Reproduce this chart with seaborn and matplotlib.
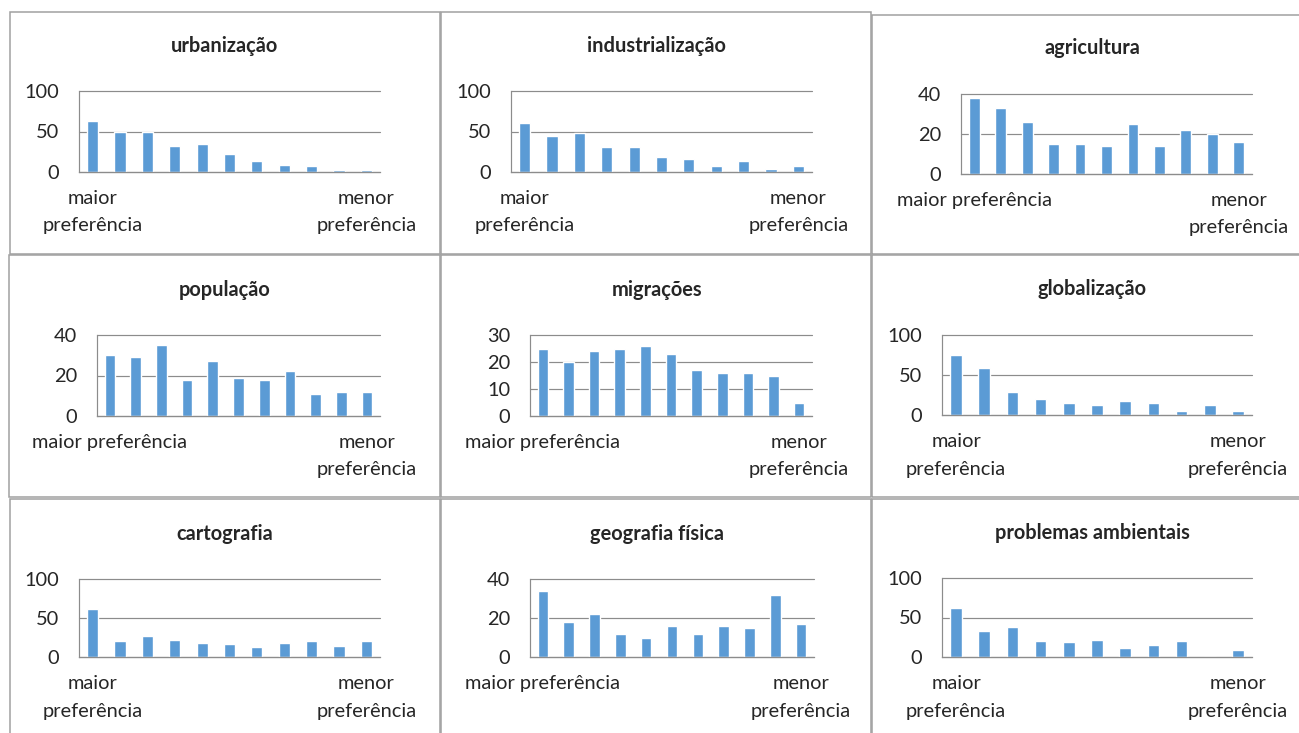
import numpy as np
import matplotlib
matplotlib.use("Agg")
import matplotlib.pyplot as plt
import seaborn as sns
from matplotlib.patches import Rectangle

# Pixel canvas
W, H = 1299, 733
DPI = 100

# Ranking positions (1 = maior preferência ... 11 = menor preferência)
ranks = [str(i) for i in range(1, 12)]

# Number of answers at each ranking position, per theme
urbanizacao = [63, 50, 49, 32, 34, 22, 14, 9, 7, 2, 2]
industrializacao = [60, 44, 48, 31, 31, 19, 16, 8, 14, 4, 7]
agricultura = [38, 33, 26, 15, 15, 14, 25, 14, 22, 20, 16]
populacao = [30, 29, 35, 18, 27, 19, 18, 22, 11, 12, 12]
migracoes = [25, 20, 24, 25, 26, 23, 17, 16, 16, 15, 5]
globalizacao = [75, 59, 29, 20, 15, 13, 17, 15, 5, 12, 5]
cartografia = [61, 21, 27, 22, 18, 17, 13, 18, 21, 14, 20]
geografia_fisica = [34, 18, 22, 12, 10, 16, 12, 16, 15, 32, 17]
problemas_ambientais = [62, 33, 38, 20, 19, 22, 12, 15, 20, 0, 9]

titles = ["urbanização", "industrialização", "agricultura",
          "população", "migrações", "globalização",
          "cartografia", "geografia física", "problemas ambientais"]
series = [urbanizacao, industrializacao, agricultura,
          populacao, migracoes, globalizacao,
          cartografia, geografia_fisica, problemas_ambientais]
yticks = [[0, 50, 100], [0, 50, 100], [0, 20, 40],
          [0, 20, 40], [0, 10, 20, 30], [0, 50, 100],
          [0, 50, 100], [0, 20, 40], [0, 50, 100]]

first_label_wrapped = "maior\npreferência"
first_label_flat = "maior preferência"
last_label = "menor\npreferência"
first_labels = [first_label_wrapped, first_label_wrapped, first_label_flat,
                first_label_flat, first_label_flat, first_label_wrapped,
                first_label_wrapped, first_label_flat, first_label_wrapped]

# Plot areas in pixels: left, right, top (y max), bottom (y = 0)
boxes = [(79, 380, 91, 172), (511, 812, 91, 172), (961, 1252, 94, 174),
         (97, 380, 335, 416), (530, 812, 335, 416), (942, 1252, 335, 415),
         (79, 380, 579, 657), (530, 814, 579, 657), (942, 1252, 578, 657)]
# Title centres in pixels
title_pos = [(225, 46), (656, 46), (1092, 48),
             (225, 290), (657, 290), (1092, 289),
             (225, 534), (657, 534), (1092, 533)]
# Chart frames in pixels: left, top, right, bottom
frames = [(10, 12, 440, 254), (441, 12, 871, 254), (872, 15, 1310, 254),
          (9, 255, 440, 497), (441, 255, 871, 497), (872, 255, 1310, 497),
          (10, 499, 440, 745), (441, 499, 871, 745), (872, 499, 1310, 745)]

BLUE = "#5B9BD5"
GRID = "#8C8C8C"
FRAME = "#A0A0A0"
FS = 14.4

sns.set_style("white")
plt.rcParams["font.family"] = ["Lato", "DejaVu Sans"]

fig = plt.figure(figsize=(W / DPI, H / DPI), dpi=DPI)
fig.patch.set_facecolor("white")

for (l, t, r, b) in frames:
    fig.patches.append(Rectangle((l / W, 1 - b / H), (r - l) / W, (b - t) / H,
                                 transform=fig.transFigure, fill=False,
                                 edgecolor=FRAME, linewidth=1.1))

px = 72 / DPI
for i in range(9):
    l, r, t, b = boxes[i]
    ax = fig.add_axes([l / W, 1 - b / H, (r - l) / W, (b - t) / H])
    sns.barplot(x=ranks, y=series[i], order=ranks, color=BLUE, saturation=1,
                width=0.41, ax=ax)
    ax.set_xlim(-0.5, 10.5)
    ax.set_ylim(0, yticks[i][-1])
    ax.set_yticks(yticks[i])
    ax.yaxis.grid(True, color=GRID, linewidth=1.2 * px)
    ax.set_axisbelow(True)
    for gl in ax.get_ygridlines():
        gl.set_clip_on(False)
    for s in ("top", "right"):
        ax.spines[s].set_visible(False)
    for s in ("left", "bottom"):
        ax.spines[s].set_color(GRID)
        ax.spines[s].set_linewidth(1.2 * px)
    ax.set_xlabel("")
    ax.set_ylabel("")

    labels = [""] * len(ranks)
    labels[0] = first_labels[i]
    labels[-1] = last_label
    ax.set_xticks(range(len(ranks)))
    ax.set_xticklabels(labels, fontsize=FS, linespacing=1.75)
    ax.set_xticks(np.arange(-0.5, len(ranks)), minor=True)
    ax.tick_params(axis="x", which="major", length=0, pad=18 * px)
    ax.tick_params(axis="x", which="minor", length=6 * px, width=1.2 * px,
                   color=GRID)
    ax.tick_params(axis="y", length=8 * px, width=1.2 * px, color=GRID,
                   pad=12 * px, labelsize=FS)

    tx, ty = title_pos[i]
    fig.text(tx / W, 1 - ty / H, titles[i], ha="center", va="center",
             fontsize=FS, fontweight="bold")

fig.savefig("out.png", dpi=DPI)
